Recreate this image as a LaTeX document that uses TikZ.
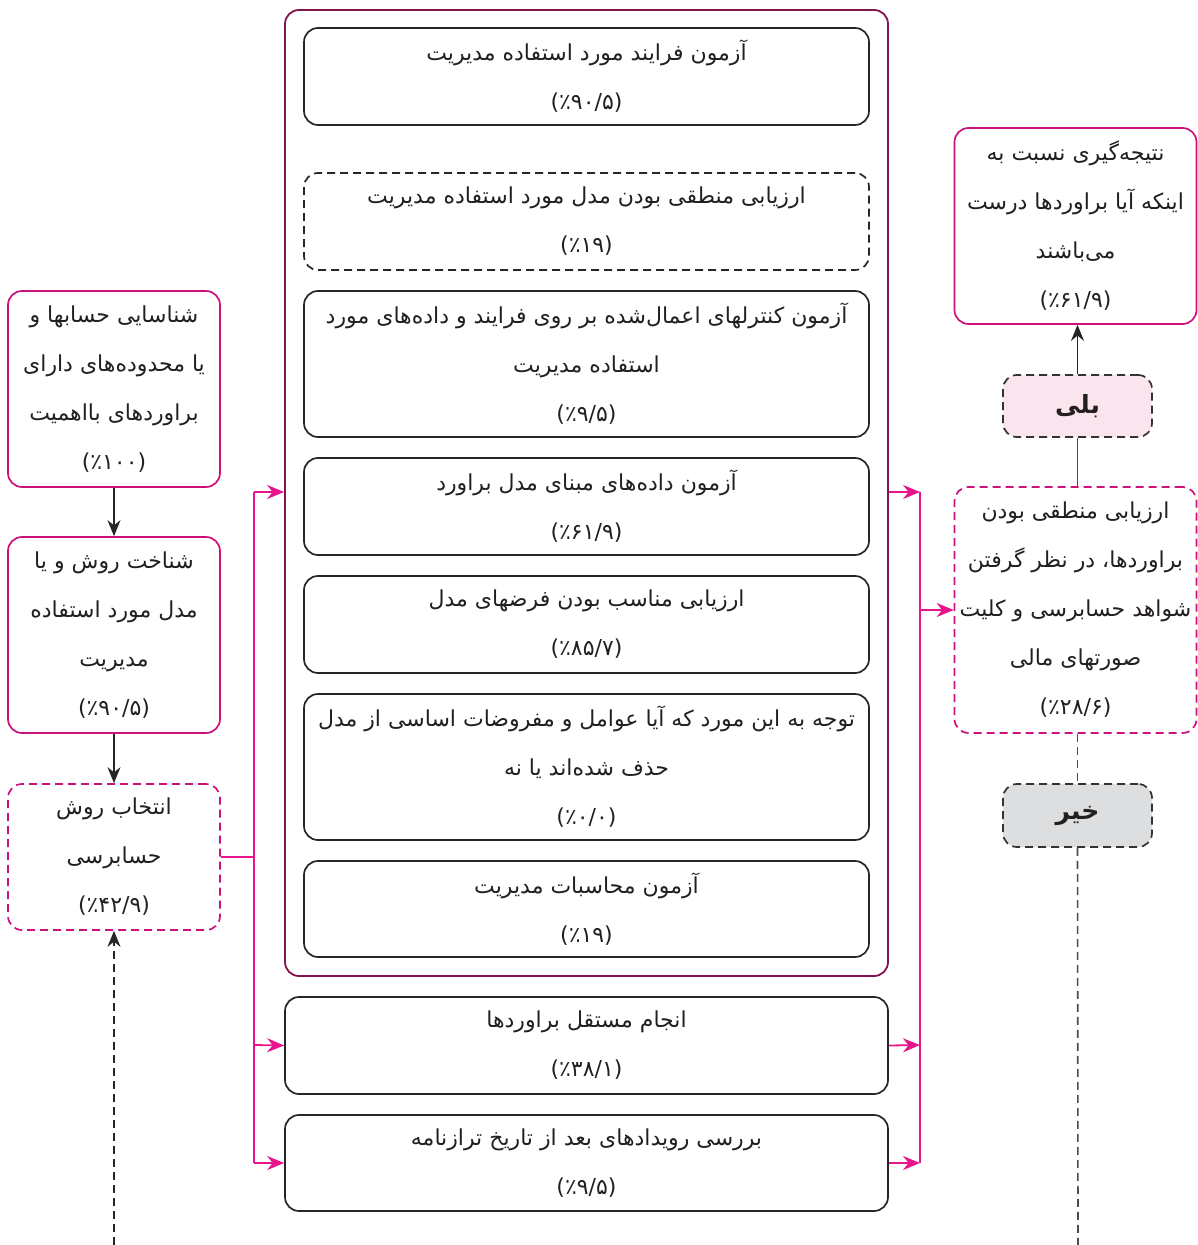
\documentclass[tikz,border=0pt]{standalone}
\usepackage{fontspec}
\newfontfamily\fa[Script=Arabic]{DejaVu Sans}
\TeXXeTstate=1
\usetikzlibrary{arrows.meta}
\definecolor{boxmag}{RGB}{204,16,124}
\definecolor{outermag}{RGB}{130,20,78}
\definecolor{arrmag}{RGB}{232,20,140}
\definecolor{yesfill}{RGB}{250,228,238}
\definecolor{nofill}{RGB}{221,222,223}
\definecolor{txt}{RGB}{35,31,32}
\newcommand\rtline[1]{\beginR #1\endR}
\tikzset{
  base/.style={rounded corners=7pt, line width=0.85pt, align=center, inner sep=0pt,
    text=txt, font=\fa\fontsize{11}{24.5}\selectfont},
  dsh/.style={dash pattern=on 4pt off 2.5pt},
  magbox/.style={base, draw=boxmag},
  magdash/.style={base, draw=boxmag, dsh},
  blkbox/.style={base, draw=black!85},
  blkdash/.style={base, draw=black!85, dsh},
  tagbox/.style={base, draw=black!80, dsh, font=\fa\bfseries\fontsize{12.5}{14}\selectfont},
  blkarr/.style={draw=black!85, line width=0.8pt, -{Stealth[length=8pt,width=6.5pt]}},
  magarr/.style={draw=arrmag, line width=0.9pt, -{Stealth[length=8.5pt,width=7pt]}},
  magline/.style={draw=arrmag, line width=0.9pt},
}
\begin{document}
\begin{tikzpicture}[x=0.5pt,y=-0.5pt]
\useasboundingbox (0,0) rectangle (1197,1245);

% left column
\node[magbox, minimum width=106pt, minimum height=98pt] (L1) at (114,389)
  {\rtline{شناسایی حسابها و}\\ \rtline{یا محدوده‌های دارای}\\ \rtline{براوردهای بااهمیت}\\ (٪۱۰۰)};
\node[magbox, minimum width=106pt, minimum height=98pt] (L2) at (114,635)
  {\rtline{شناخت روش و یا}\\ \rtline{مدل مورد استفاده}\\ \rtline{مدیریت}\\ (٪۹۰/۵)};
\node[magdash, minimum width=106pt, minimum height=73pt] (L3) at (114,857)
  {\rtline{انتخاب روش}\\ \rtline{حسابرسی}\\ (٪۴۲/۹)};

% outer group
\node[draw=outermag, rounded corners=7pt, line width=0.9pt, minimum width=301.5pt,
  minimum height=483pt, inner sep=0pt] (outer) at (586.5,493) {};

\node[blkbox, minimum width=282.5pt, minimum height=48.5pt] (a) at (586.5,76.5)
  {\rtline{آزمون فرایند مورد استفاده مدیریت}\\ (٪۹۰/۵)};
\node[blkdash, minimum width=282.5pt, minimum height=48.5pt] (b) at (586.5,221.5)
  {\rtline{ارزیابی منطقی بودن مدل مورد استفاده مدیریت}\\ (٪۱۹)};
\node[blkbox, minimum width=282.5pt, minimum height=73pt] (c) at (586.5,364)
  {\rtline{آزمون کنترلهای اعمال‌شده بر روی فرایند و داده‌های مورد}\\ \rtline{استفاده مدیریت}\\ (٪۹/۵)};
\node[blkbox, minimum width=282.5pt, minimum height=48.5pt] (d) at (586.5,506.5)
  {\rtline{آزمون داده‌های مبنای مدل براورد}\\ (٪۶۱/۹)};
\node[blkbox, minimum width=282.5pt, minimum height=48.5pt] (e) at (586.5,624.5)
  {\rtline{ارزیابی مناسب بودن فرضهای مدل}\\ (٪۸۵/۷)};
\node[blkbox, minimum width=282.5pt, minimum height=73pt] (f) at (586.5,767)
  {\rtline{توجه به این مورد که آیا عوامل و مفروضات اساسی از مدل}\\ \rtline{حذف شده‌اند یا نه}\\ (٪۰/۰)};
\node[blkbox, minimum width=282.5pt, minimum height=48pt] (g) at (586.5,909)
  {\rtline{آزمون محاسبات مدیریت}\\ (٪۱۹)};

\node[blkbox, minimum width=301.5pt, minimum height=48.5pt] (h) at (586.5,1045.5)
  {\rtline{انجام مستقل براوردها}\\ (٪۳۸/۱)};
\node[blkbox, minimum width=301.5pt, minimum height=48pt] (i) at (586.5,1163)
  {\rtline{بررسی رویدادهای بعد از تاریخ ترازنامه}\\ (٪۹/۵)};

% right column
\node[magbox, minimum width=121pt, minimum height=98pt] (R1) at (1075.5,226)
  {\rtline{نتیجه‌گیری نسبت به}\\ \rtline{اینکه آیا براوردها درست}\\ \rtline{می‌باشند}\\ (٪۶۱/۹)};
\node[tagbox, fill=yesfill, minimum width=74.5pt, minimum height=31pt] (yes) at (1077.5,406)
  {\rtline{بلی}};
\node[magdash, minimum width=121pt, minimum height=123pt] (R2) at (1075.5,610)
  {\rtline{ارزیابی منطقی بودن}\\ \rtline{براوردها، در نظر گرفتن}\\ \rtline{شواهد حسابرسی و کلیت}\\ \rtline{صورتهای مالی}\\ (٪۲۸/۶)};
\node[tagbox, fill=nofill, minimum width=74.5pt, minimum height=31.5pt] (no) at (1077.5,815.5)
  {\rtline{خیر}};

% coordinates
\coordinate (lb) at (114,1245);
\coordinate (rb) at (1078,1245);
\coordinate (j0) at (254,857);
\coordinate (j1) at (254,492);
\coordinate (j2) at (254,1045);
\coordinate (j3) at (254,1163);
\coordinate (k1) at (920,492);
\coordinate (k2) at (920,1045);
\coordinate (k3) at (920,1163);
\coordinate (k4) at (920,610);

% left connectors
\draw[blkarr] (L1) -- (L2);
\draw[blkarr] (L2) -- (L3);
\draw[blkarr, dsh] (lb) -- (L3.south);

\draw[magline] (L3.east) -- (j0);
\draw[magline] (j1) -- (j3);
\draw[magarr] (j1) -- (j1 -| outer.west);
\draw[magarr] (j2) -- (h.west);
\draw[magarr] (j3) -- (i.west);

% right connectors
\draw[magarr] (k1 -| outer.east) -- (k1);
\draw[magarr] (h.east) -- (k2);
\draw[magarr] (i.east) -- (k3);
\draw[magline] (k1) -- (k3);
\draw[magarr] (k4) -- (R2.west);

\draw[draw=black!70, line width=0.8pt] (yes.south) -- (yes.south |- R2.north);
\draw[blkarr] (yes.north) -- (yes.north |- R1.south);
\draw[draw=black!70, line width=0.8pt, dsh] (no.north |- R2.south) -- (no.north);
\draw[draw=black!70, line width=0.8pt, dsh] (no.south) -- (rb);
\end{tikzpicture}
\end{document}
